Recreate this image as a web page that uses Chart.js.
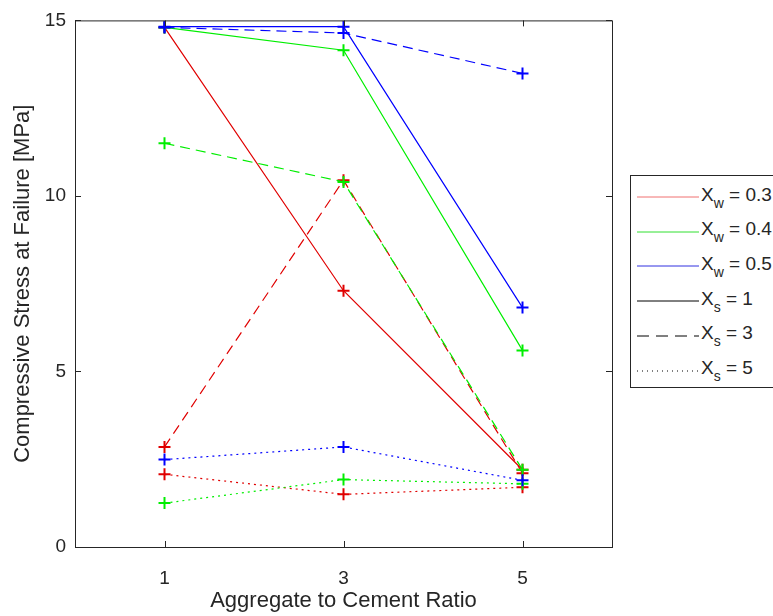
<!DOCTYPE html>
<html>
<head>
<meta charset="utf-8">
<script src="https://cdn.jsdelivr.net/npm/chart.js@4.4.1/dist/chart.umd.min.js"></script>
<style>
  html, body { margin: 0; padding: 0; background: #fff; overflow: hidden; }
  #wrap { position: relative; width: 773px; height: 616px; }
  #legend {
    position: absolute; left: 630px; top: 175px; width: 170px; height: 213px;
    border: 1px solid #262626; box-sizing: border-box; background: #fff;
    font-family: "Liberation Sans", Arial, sans-serif; font-size: 19px; color: #262626;
  }
  .row { position: absolute; left: 6px; height: 22px; display: flex; align-items: center; }
  .row svg { width: 62px; height: 10px; margin-right: 2px; }
  .row sub { font-size: 14px; vertical-align: -7px; }
</style>
</head>
<body>
<div id="wrap">
  <canvas id="chart" width="773" height="616"></canvas>
  <div id="legend"></div>
</div>
<script>
const xs = [1, 3, 5];

// colour = water ratio, dash = sand ratio
const red_s1   = [14.8, 7.3, 2.2];
const red_s3   = [2.85, 10.45, 2.1];
const red_s5   = [2.07, 1.5, 1.7];
const green_s1 = [14.8, 14.15, 5.6];
const green_s3 = [11.5, 10.4, 2.2];
const green_s5 = [1.25, 1.92, 1.8];
const blue_s1  = [14.82, 14.82, 6.82];
const blue_s3  = [14.8, 14.64, 13.49];
const blue_s5  = [2.49, 2.85, 1.9];

const xTicks = [1, 3, 5];
const yTicks = [0, 5, 10, 15];

const RED = "#e00000", GREEN = "#00ee00", BLUE = "#0000ff";
const SOLID = [], DASHED = [10, 6], DOTTED = [2, 4];

let n = 0;
const mk = (vals, color, dash) => ({
  data: vals.map((v, i) => ({ x: xs[i], y: v })),
  borderColor: color,
  backgroundColor: color,
  borderWidth: 1.2,
  borderDash: dash,
  pointStyle: "cross",
  pointRadius: 6,
  pointBorderWidth: 2,
  pointBorderColor: color,
  fill: false,
  tension: 0,
  order: 100 - (n++),   // later series on top, like matlab
});

const datasets = [
  mk(red_s1, RED, SOLID), mk(red_s3, RED, DASHED), mk(red_s5, RED, DOTTED),
  mk(green_s1, GREEN, SOLID), mk(green_s3, GREEN, DASHED), mk(green_s5, GREEN, DOTTED),
  mk(blue_s1, BLUE, SOLID), mk(blue_s3, BLUE, DASHED), mk(blue_s5, BLUE, DOTTED),
];

// matlab-style box + inward ticks
const boxPlugin = {
  id: "box",
  afterDraw(chart) {
    const { ctx, chartArea: a, scales } = chart;
    ctx.save();
    ctx.strokeStyle = "#262626";
    ctx.lineWidth = 1;
    ctx.strokeRect(a.left + 0.5, a.top + 0.5, a.right - a.left, a.bottom - a.top);
    ctx.beginPath();
    xTicks.forEach(t => {
      const px = Math.round(scales.x.getPixelForValue(t)) + 0.5;
      ctx.moveTo(px, a.bottom); ctx.lineTo(px, a.bottom - 6);
      ctx.moveTo(px, a.top); ctx.lineTo(px, a.top + 6);
    });
    yTicks.forEach(t => {
      const py = Math.round(scales.y.getPixelForValue(t)) + 0.5;
      ctx.moveTo(a.left, py); ctx.lineTo(a.left + 6, py);
      ctx.moveTo(a.right, py); ctx.lineTo(a.right - 6, py);
    });
    ctx.stroke();
    ctx.restore();
  }
};

const family = "'Liberation Sans', Arial, sans-serif";
const tickFont = { family: family, size: 19 };
const titleFont = { family: family, size: 22 };

new Chart(document.querySelector("#chart"), {
  type: "line",
  data: { datasets: datasets },
  options: {
    responsive: false,
    animation: false,
    layout: { padding: { left: 0, right: 161, top: 19, bottom: 0 } },
    plugins: { legend: { display: false }, tooltip: { enabled: false } },
    scales: {
      x: {
        type: "linear", min: 0, max: 6,
        afterBuildTicks: s => { s.ticks = xTicks.map(v => ({ value: v })); },
        afterFit: s => { s.height = 69; },
        grid: { display: false, drawTicks: false },
        border: { display: false },
        ticks: { font: tickFont, color: "#262626", padding: 20 },
        title: { display: true, text: "Aggregate to Cement Ratio", font: titleFont, color: "#262626", padding: { top: 0, bottom: 2 } },
      },
      y: {
        min: 0, max: 15,
        afterBuildTicks: s => { s.ticks = yTicks.map(v => ({ value: v })); },
        afterFit: s => { s.width = 75; },
        grid: { display: false, drawTicks: false },
        border: { display: false },
        ticks: { font: tickFont, color: "#262626", padding: 9 },
        title: { display: true, text: "Compressive Stress at Failure [MPa]", font: titleFont, color: "#262626", padding: { top: 10, bottom: 0 } },
      },
    },
  },
  plugins: [boxPlugin],
});

// legend with subscripts
const legendItems = [
  { color: "#f07070", dash: "", sub: "w", text: " = 0.3" },
  { color: "#30e030", dash: "", sub: "w", text: " = 0.4" },
  { color: "#3030e0", dash: "", sub: "w", text: " = 0.5" },
  { color: "#000", dash: "", sub: "s", text: " = 1" },
  { color: "#000", dash: "12 7", sub: "s", text: " = 3" },
  { color: "#000", dash: "1 4", sub: "s", text: " = 5" },
];
const legend = document.querySelector("#legend");
legendItems.forEach((it, i) => {
  const row = document.createElement("div");
  row.className = "row";
  row.style.top = (10 + i * 34.7) + "px";
  row.innerHTML =
    `<svg viewBox="0 0 62 10"><line x1="0" y1="5" x2="62" y2="5" stroke="${it.color}" stroke-width="1" stroke-dasharray="${it.dash}"/></svg>` +
    `<span>X<sub>${it.sub}</sub>${it.text}</span>`;
  legend.appendChild(row);
});
</script>
</body>
</html>
